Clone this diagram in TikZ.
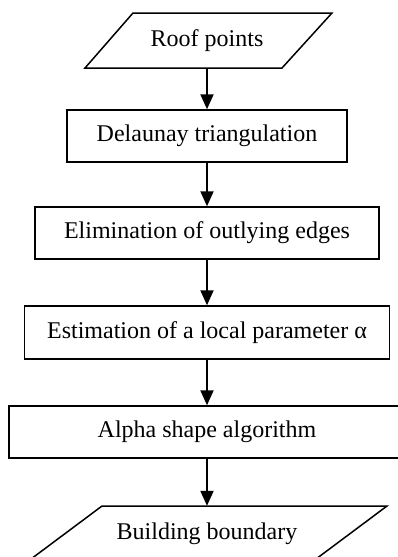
\documentclass[tikz,border=0pt]{standalone}
\usepackage{fontspec}
\setmainfont{Liberation Serif}
\usetikzlibrary{arrows.meta}
\begin{document}
\begin{tikzpicture}[x=1pt,y=-1pt,
  font=\fontsize{24}{28}\selectfont,
  procbox/.style={draw,line width=1.5pt,rectangle,inner sep=0pt,minimum height=52pt},
  iolabel/.style={inner sep=0pt,minimum height=55pt,minimum width=150pt},
  ioshape/.style={draw,line width=1.5pt,line join=miter},
  flowarrow/.style={line width=2pt,-{Triangle[width=13pt,length=15pt]}}]
\useasboundingbox (0,0) rectangle (398,557);
\clip (0,0) rectangle (398,557);
% input parallelogram
\draw[ioshape] (133,13) -- (332,13) -- (282,68) -- (85,68) -- cycle;
\node[iolabel] (roof) at (207,40.5) {Roof points};
% process boxes
\node[procbox,minimum width=280pt] (del) at (207,136) {Delaunay triangulation};
\node[procbox,minimum width=344pt] (elim) at (207,233) {Elimination of outlying edges};
\node[procbox,minimum width=365pt,minimum height=53pt] (est) at (207,332.5) {Estimation of a local parameter α};
\node[procbox,minimum width=396pt] (alpha) at (207,432) {Alpha shape algorithm};
% output parallelogram
\draw[ioshape] (102,506) -- (387,506) -- (312,562) -- (27,562) -- cycle;
\node[iolabel,minimum height=56pt] (build) at (207,534) {Building boundary};
% connectors
\draw[flowarrow] (roof.south) -- (del.north);
\draw[flowarrow] (del.south) -- (elim.north);
\draw[flowarrow] (elim.south) -- (est.north);
\draw[flowarrow] (est.south) -- (alpha.north);
\draw[flowarrow] (alpha.south) -- (build.north);
\end{tikzpicture}
\end{document}
